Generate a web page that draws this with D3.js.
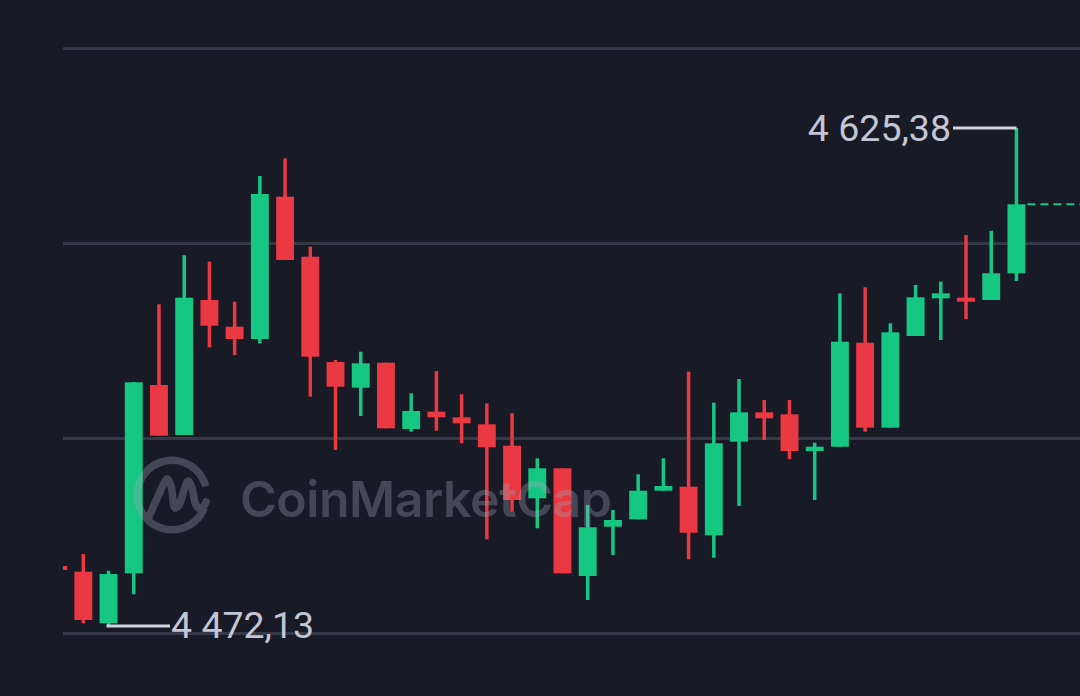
<!DOCTYPE html>
<html>
<head>
<meta charset="utf-8">
<script src="https://cdn.jsdelivr.net/npm/d3@7"></script>
<style>
	html, body { margin: 0; padding: 0; background: #181a26; }
	#chart { width: 1080px; height: 696px; overflow: hidden; }
</style>
</head>
<body>
<div id="chart"></div>
<script>
// candle index (first one is cut by the left edge)
var candles = d3.range(39);

var opens  = [4490.62, 4488.86, 4473.00, 4488.37, 4546.31, 4530.92, 4572.46, 4564.25, 4560.46, 4604.25,
              4585.78, 4553.38, 4545.48, 4553.17, 4532.77, 4538.09, 4536.37, 4534.22, 4527.63, 4511.45,
              4520.68, 4487.54, 4502.71, 4504.98, 4513.78, 4515.02, 4500.06, 4528.86, 4537.91, 4537.29,
              4526.00, 4527.32, 4559.32, 4533.17, 4561.38, 4572.98, 4573.17, 4572.46, 4580.68];
var highs  = [4490.80, 4494.31, 4489.17, 4547.20, 4571.14, 4586.22, 4584.25, 4571.94, 4610.62, 4616.06,
              4588.86, 4554.00, 4556.55, 4553.17, 4543.75, 4550.62, 4543.45, 4540.68, 4537.60, 4523.75,
              4520.68, 4509.38, 4507.85, 4518.83, 4523.75, 4550.40, 4540.86, 4548.15, 4541.69, 4541.69,
              4528.55, 4574.46, 4576.37, 4565.29, 4577.08, 4578.09, 4592.46, 4593.78, 4625.38];
var lows   = [4489.20, 4472.98, 4472.13, 4481.91, 4530.71, 4530.92, 4557.91, 4555.54, 4559.14, 4584.77,
              4542.71, 4526.31, 4536.77, 4532.98, 4531.94, 4532.25, 4528.37, 4498.83, 4507.32, 4502.22,
              4488.37, 4480.15, 4494.00, 4504.98, 4513.78, 4492.68, 4493.17, 4509.08, 4529.38, 4523.54,
              4510.92, 4527.32, 4531.94, 4533.17, 4561.38, 4560.15, 4566.62, 4572.46, 4578.31];
var closes = [4489.38, 4474.00, 4488.15, 4547.14, 4530.71, 4573.17, 4564.55, 4560.46, 4605.08, 4584.77,
              4555.02, 4545.78, 4552.98, 4532.98, 4538.31, 4536.37, 4534.52, 4527.14, 4510.92, 4520.68,
              4488.37, 4502.52, 4504.77, 4513.78, 4515.23, 4500.86, 4528.37, 4537.91, 4536.06, 4526.00,
              4527.32, 4559.63, 4533.17, 4562.52, 4573.29, 4574.52, 4571.94, 4580.68, 4601.91];

var priceTicks = [4470, 4530, 4590, 4650];
var maxLabel = '4 625,38';
var minLabel = '4 472,13';
var watermark = 'CoinMarketCap';

function CandleChart(config) {
	var me = this;
	me.initConfig(config);
}

CandleChart.prototype.initConfig = function(config) {
	//defaults
	this.width   = 1080;
	this.height  = 696;
	this.up      = '#16c784';
	this.down    = '#ea3943';
	this.grid    = '#353847';
	this.labelFg = '#c3c6d3';

	this.mergeObjs(this, config);
	this.parentNode = d3.select('#' + config.parentId);

	this.data = candles.map(function(i) {
		return {i: i, o: opens[i], h: highs[i], l: lows[i], c: closes[i]};
	});

	this.initVisuals();
}

CandleChart.prototype.initVisuals = function() {
	this.svg = this.parentNode.append('svg')
		.attr('width',  this.width)
		.attr('height', this.height);

	this.svg.append('rect')
		.attr('width', this.width)
		.attr('height', this.height)
		.attr('fill', '#181a26');

	this.svg.append('clipPath').attr('id', 'plotClip')
		.append('rect')
		.attr('x', 63).attr('y', 0)
		.attr('width', this.width - 63).attr('height', this.height);

	this.vis = this.svg.append('g');
	this.draw();
}

CandleChart.prototype.draw = function() {
	var me = this;

	var step = 25.22;
	me.xScale = d3.scaleBand()
		.domain(candles)
		.range([58.1 - step / 2, 58.1 - step / 2 + step * candles.length])
		.paddingInner(0.29)
		.paddingOuter(0.145);

	me.yScale = d3.scaleLinear()
		.domain([priceTicks[0], priceTicks[priceTicks.length - 1]])
		.range([633, 48]);

	me.drawGrid();
	me.drawCandles();
	me.drawWatermark();
	me.drawLabels();
}

CandleChart.prototype.drawGrid = function() {
	var me = this;
	var yAxis = d3.axisRight(me.yScale)
		.tickValues(priceTicks)
		.tickSize(me.width - 63)
		.tickFormat('');

	var g = me.vis.append('g')
		.attr('transform', 'translate(63,0)')
		.call(yAxis);
	g.select('.domain').remove();
	g.selectAll('.tick line')
		.attr('stroke', me.grid)
		.attr('stroke-width', 3);
}

CandleChart.prototype.drawCandles = function() {
	var me = this;
	var bw = me.xScale.bandwidth();

	var candle = me.vis.append('g')
		.attr('clip-path', 'url(#plotClip)')
		.selectAll('g')
		.data(me.data)
		.enter().append('g')
		.attr('fill', function(d) { return d.c >= d.o ? me.up : me.down; });

	candle.append('rect')
		.attr('x', function(d) { return me.xScale(d.i) + bw / 2 - 1.75; })
		.attr('width', 3.5)
		.attr('y', function(d) { return me.yScale(d.h); })
		.attr('height', function(d) { return me.yScale(d.l) - me.yScale(d.h); });

	candle.append('rect')
		.attr('x', function(d) { return me.xScale(d.i); })
		.attr('width', bw)
		.attr('y', function(d) { return me.yScale(Math.max(d.o, d.c)); })
		.attr('height', function(d) { return Math.max(3, Math.abs(me.yScale(d.o) - me.yScale(d.c))); });

	// last price dashed line
	var last = me.data[me.data.length - 1];
	me.vis.append('line')
		.attr('x1', me.xScale(last.i) + bw + 2)
		.attr('x2', me.width)
		.attr('y1', me.yScale(last.c))
		.attr('y2', me.yScale(last.c))
		.attr('stroke', me.up)
		.attr('stroke-width', 2)
		.attr('stroke-dasharray', '8,5');
}

CandleChart.prototype.drawWatermark = function() {
	var me = this;
	var wm = me.vis.append('g')
		.attr('opacity', 0.33);

	var arc = d3.arc()
		.innerRadius(31)
		.outerRadius(38.5)
		.startAngle(Math.PI * 0.62)
		.endAngle(Math.PI * 2.42);
	wm.append('path')
		.attr('transform', 'translate(172,495)')
		.attr('d', arc())
		.attr('fill', '#a0a4b8');

	// the "M" squiggle of the logo
	var mLine = d3.line().curve(d3.curveCatmullRom.alpha(0.5));
	wm.append('path')
		.attr('d', mLine([[148, 519], [160, 492], [167, 479], [171, 486], [175, 508], [179, 505], [188, 481], [192, 488], [196, 505], [201, 509], [206, 502]]))
		.attr('fill', 'none')
		.attr('stroke', '#a0a4b8')
		.attr('stroke-width', 7.5)
		.attr('stroke-linecap', 'round')
		.attr('stroke-linejoin', 'round');

	wm.append('text')
		.attr('x', 240)
		.attr('y', 517)
		.attr('font-family', 'Inter, "Noto Sans", sans-serif')
		.attr('font-weight', 600)
		.attr('font-size', 50)
		.attr('textLength', 372)
		.attr('fill', '#a0a4b8')
		.text(watermark);
}

CandleChart.prototype.drawLabels = function() {
	var me = this;
	var bw = me.xScale.bandwidth();
	var hiIdx = d3.maxIndex(highs), loIdx = d3.minIndex(lows);
	var hx = me.xScale(hiIdx) + bw / 2, hy = me.yScale(highs[hiIdx]);
	var lx = me.xScale(loIdx) + bw / 2, ly = me.yScale(lows[loIdx]);

	var labels = me.vis.append('g')
		.attr('font-family', 'Roboto, sans-serif')
		.attr('font-size', 37.5)
		.attr('fill', me.labelFg);

	labels.append('path')
		.attr('d', 'M953,' + hy + 'H' + hx)
		.attr('stroke', '#d2d4de')
		.attr('stroke-width', 3)
		.attr('fill', 'none');
	labels.append('text')
		.attr('x', 951)
		.attr('y', hy + 13)
		.attr('text-anchor', 'end')
		.text(maxLabel);

	labels.append('path')
		.attr('d', 'M' + (lx - 2) + ',' + ly + 'H170')
		.attr('stroke', '#d2d4de')
		.attr('stroke-width', 3)
		.attr('fill', 'none');
	labels.append('text')
		.attr('x', 171)
		.attr('y', ly + 11.5)
		.text(minLabel);
}

CandleChart.prototype.mergeObjs = function(dst, src) {
	for (var k in src) { if (src.hasOwnProperty(k)) dst[k] = src[k]; }
	return dst;
};

new CandleChart({parentId: 'chart'});
</script>
</body>
</html>
